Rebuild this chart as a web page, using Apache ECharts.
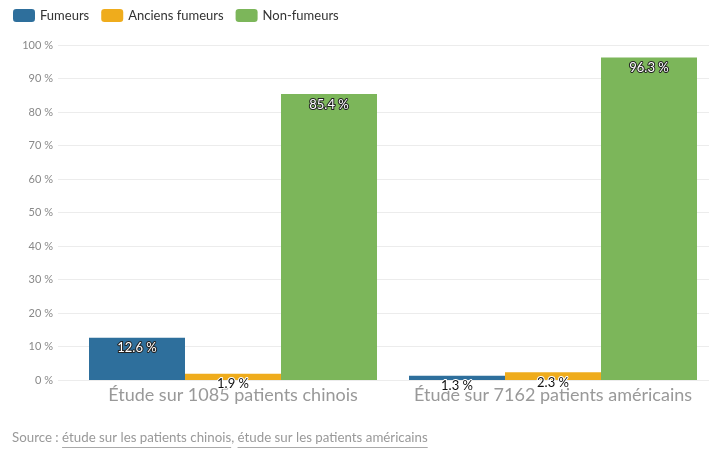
<!DOCTYPE html>
<html><head><meta charset="utf-8">
<script src="https://cdn.jsdelivr.net/npm/echarts@6/dist/echarts.min.js"></script>
<style>html,body{margin:0;padding:0;background:#fff;overflow:hidden;width:709px;height:458px}#c{width:720px;height:458px}</style>
</head><body><div id="c"></div>
<script>
const categories = ["Étude sur 1085 patients chinois", "Étude sur 7162 patients américains"];
const seriesNames = ["Fumeurs", "Anciens fumeurs", "Non-fumeurs"];
const fumeurs = [12.6, 1.3];
const anciensFumeurs = [1.9, 2.3];
const nonFumeurs = [85.4, 96.3];
const yTicks = [0, 10, 20, 30, 40, 50, 60, 70, 80, 90, 100];
const sourceParts = ["Source : ", "étude sur les patients chinois", ", ", "étude sur les patients américains"];

const colors = ["#2e6f9c", "#efac1c", "#7cb65a"];
const FONT = "Lato, 'Open Sans', sans-serif";

function fmt(v){ return String(v) + " %"; }

function labelFor(v){
  const big = v > 8;
  return {
    show: true, position: 'insideTop', distance: 4,
    fontFamily: FONT, fontSize: 13,
    color: big ? '#fff' : '#111',
    textBorderColor: big ? '#222' : '#fff',
    textBorderWidth: 2,
    formatter: p => fmt(p.value)
  };
}
function mk(name, arr, color){
  return {
    name, type: 'bar', barGap: '0%', barCategoryGap: '10%',
    xAxisIndex: 0, yAxisIndex: 0,
    itemStyle: { color },
    data: arr.map(v => ({ value: v, label: labelFor(v) })),
    animation: false, z: 3
  };
}

const chart = echarts.init(document.getElementById('c'), null, {renderer: 'canvas'});

const SRC_FONT = "13.3px " + FONT;
const cv = document.createElement('canvas').getContext('2d');
cv.font = SRC_FONT;
const widths = sourceParts.map(s => cv.measureText(s).width);
const srcX = 12, srcY = 440;
const graphics = [];
let x = srcX;
sourceParts.forEach((s, i) => {
  graphics.push({ type: 'text', left: x, top: srcY - 9, silent: true,
    style: { text: s, fill: '#999', font: SRC_FONT } });
  if (i === 1 || i === 3) {
    graphics.push({ type: 'line', silent: true,
      shape: { x1: x, y1: srcY + 7.5, x2: x + widths[i], y2: srcY + 7.5 },
      style: { stroke: '#aaa', lineWidth: 1 } });
  }
  x += widths[i];
});

chart.setOption({
  animation: false,
  color: colors,
  textStyle: { fontFamily: FONT },
  legend: {
    left: 8, top: 4, itemWidth: 22, itemHeight: 13, itemGap: 12,
    icon: 'roundRect',
    textStyle: { fontFamily: FONT, fontSize: 13, color: '#333' },
    data: seriesNames
  },
  grid: [
    { left: 73, width: 640, top: 45, height: 335 },
    { left: 58, width: 660, top: 45, height: 335 }
  ],
  xAxis: [
    {
      type: 'category', data: categories, gridIndex: 0,
      axisLine: { show: false },
      axisTick: { show: false },
      axisLabel: { fontFamily: FONT, fontSize: 18, color: '#999', margin: 6,
        interval: 0, hideOverlap: false }
    },
    { type: 'value', gridIndex: 1, show: false, min: 0, max: 1 }
  ],
  yAxis: [
    {
      type: 'value', min: 0, max: 100, interval: 10, gridIndex: 0,
      axisLine: { show: false }, axisTick: { show: false },
      splitLine: { show: false },
      axisLabel: { fontFamily: FONT, fontSize: 11, color: '#888', margin: 20,
        formatter: v => yTicks.includes(v) ? v + " %" : '' }
    },
    {
      type: 'value', min: 0, max: 100, interval: 10, gridIndex: 1,
      axisLine: { show: false }, axisTick: { show: false },
      axisLabel: { show: false },
      splitLine: { lineStyle: { color: '#ececec' } }
    }
  ],
  series: [
    mk(seriesNames[0], fumeurs, colors[0]),
    mk(seriesNames[1], anciensFumeurs, colors[1]),
    mk(seriesNames[2], nonFumeurs, colors[2])
  ],
  graphic: graphics
});
</script></body></html>
